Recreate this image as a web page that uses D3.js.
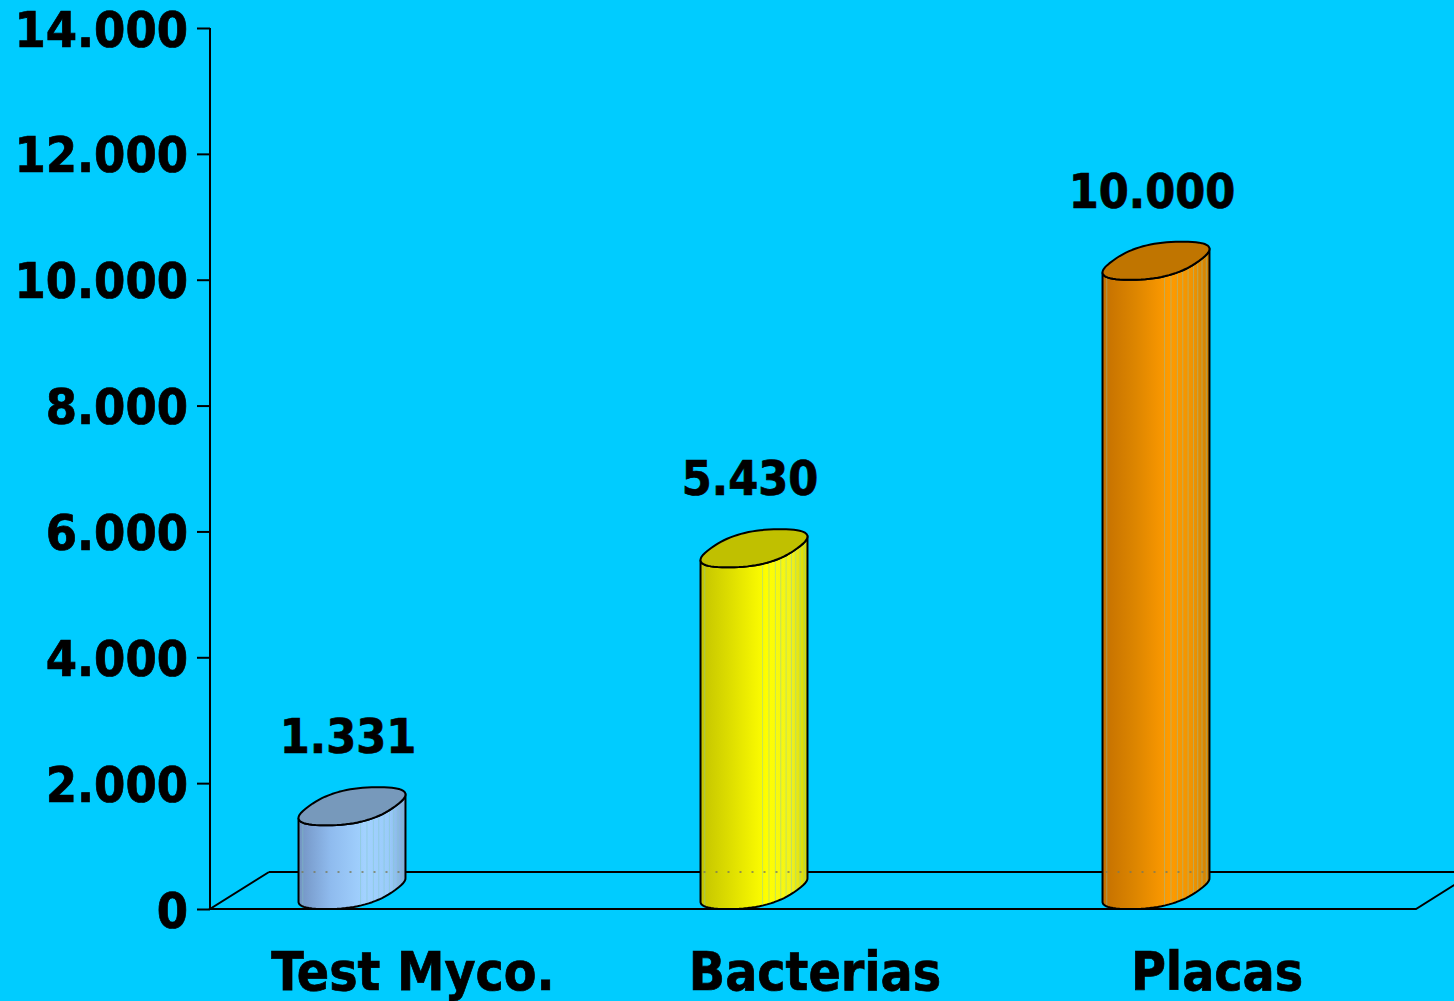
<!DOCTYPE html>
<html>
<head>
<meta charset="utf-8">
<script src="https://cdn.jsdelivr.net/npm/d3@7"></script>
<style>
  body { margin: 0; background: #00CCFF; }
  svg { display: block; }
  text { font-family: "DejaVu Sans Condensed", "DejaVu Sans", sans-serif; font-weight: bold; fill: #000; stroke: #000; stroke-width: 0.7px; }
</style>
</head>
<body>
<div id="chart"></div>
<script>
// Chart data
var categories = ["Test Myco.", "Bacterias", "Placas"];
var values = [1331, 5430, 10000];
var yTicks = [0, 2000, 4000, 6000, 8000, 10000, 12000, 14000];

// Colours per cylinder: body gradient stops and top face
var bodyStops = [
    ["#7393c2", "#8fbbee", "#a2d2ff", "#9acbfb", "#80a8d8"],
    ["#c4c400", "#e0e000", "#ffff00", "#f2f21a", "#d6d600"],
    ["#c47000", "#dc8500", "#ff9b00", "#f09300", "#d08000"]
];
var topColors = ["#7799bb", "#c0c000", "#c07500"];

// Number format with "." as thousands separator
var fmt = d3.formatLocale({ decimal: ",", thousands: ".", grouping: [3], currency: ["", ""] }).format(",d");

var width = 1454, height = 1001;
var plot = { left: 210, right: 1416, top: 28, bottom: 909 };
var depth = { dx: 59, dy: 37 };   // floor depth projection
var halfWidth = 53.5;              // half the visible width of a cylinder
var skewX = 26, halfDepthY = 19;   // projected depth axis of the cylinder section
var squircle = 2.5;                // section shape exponent (2 = ellipse)

var x = d3.scaleBand().domain(categories).range([plot.left, plot.right]);
var y = d3.scaleLinear().domain([0, 14000]).range([plot.bottom, plot.top]);

var svg = d3.select("#chart").append("svg")
    .attr("width", width)
    .attr("height", height);

var defs = svg.append("defs");

// Floor (3D base plane)
var floor = svg.append("g")
    .attr("fill", "none")
    .attr("stroke", "#000")
    .attr("stroke-width", 2);

floor.append("path")
    .attr("d", d3.line()([
        [plot.left + depth.dx, plot.bottom - depth.dy],
        [plot.left, plot.bottom],
        [plot.right, plot.bottom],
        [plot.right + depth.dx, plot.bottom - depth.dy]
    ]));
floor.append("line")
    .attr("x1", plot.left + depth.dx).attr("y1", plot.bottom - depth.dy)
    .attr("x2", plot.right + depth.dx).attr("y2", plot.bottom - depth.dy);

// Y axis
var yAxis = svg.append("g")
    .attr("transform", "translate(" + plot.left + ",0)")
    .call(d3.axisLeft(y).tickValues(yTicks).tickSize(13).tickPadding(9).tickFormat(fmt));
yAxis.attr("font-family", null).attr("font-size", null);
yAxis.select(".domain").attr("stroke-width", 2).attr("d", "M0," + plot.top + "V" + plot.bottom);
yAxis.selectAll(".tick line").attr("stroke-width", 2);
yAxis.selectAll(".tick text")
    .attr("font-size", 50)
    .attr("dy", 18);

// Cylinder section: a projected squircle, sized so its width is 2*halfWidth
var q = squircle / (squircle - 1);
var a = Math.pow(Math.pow(halfWidth, q) - Math.pow(skewX, q), 1 / q);
var N = 72;
var unit = d3.range(N).map(function(i) {
    var t = 2 * Math.PI * i / N;
    var c = Math.cos(t), s = Math.sin(t);
    var u = Math.sign(c) * Math.pow(Math.abs(c), 2 / squircle);
    var w = Math.sign(s) * Math.pow(Math.abs(s), 2 / squircle);
    return [a * u + skewX * w, -halfDepthY - halfDepthY * w];
});
var iLeft = d3.minIndex(unit, function(p) { return p[0]; });
var iRight = d3.maxIndex(unit, function(p) { return p[0]; });

// points of the front half, left to right
var frontIdx = d3.range(iLeft, iRight + N + 1).map(function(i) { return i % N; });

function place(cx, yFront, idx) {
    return idx.map(function(i) { return [cx + unit[i][0], yFront + unit[i][1]]; });
}

var data = categories.map(function(c, i) {
    return { name: c, value: values[i], i: i, cx: x(c) + x.bandwidth() / 2 - depth.dx };
});

data.forEach(function(d) {
    var grad = defs.append("linearGradient")
        .attr("id", "body" + d.i)
        .attr("x1", 0).attr("x2", 1).attr("y1", 0).attr("y2", 0);
    grad.selectAll("stop")
        .data(bodyStops[d.i])
        .enter().append("stop")
        .attr("offset", function(s, k) { return [0, 0.3, 0.62, 0.85, 1][k]; })
        .attr("stop-color", function(s) { return s; });
});

var line = d3.line();

function bodyPath(d) {
    var bottom = place(d.cx, y(0), frontIdx);
    var top = place(d.cx, y(d.value), frontIdx).reverse();
    return line(bottom.concat(top)) + "Z";
}

data.forEach(function(d) {
    defs.append("clipPath")
        .attr("id", "clip" + d.i)
        .append("path")
        .attr("d", bodyPath(d));
});

var cyl = svg.selectAll(".cylinder")
    .data(data)
    .enter().append("g")
    .attr("class", "cylinder");

// Body
cyl.append("path")
    .attr("d", bodyPath)
    .attr("fill", function(d) { return "url(#body" + d.i + ")"; });

// Thin rendering stripes on the body
cyl.append("g")
    .attr("clip-path", function(d) { return "url(#clip" + d.i + ")"; })
    .each(function(d) {
        d3.select(this).selectAll("line")
            .data([0.04, 0.58, 0.64, 0.7, 0.75, 0.8, 0.85, 0.89, 0.93, 0.97])
            .enter().append("line")
            .attr("x1", function(f) { return d.cx - halfWidth + f * 2 * halfWidth; })
            .attr("x2", function(f) { return d.cx - halfWidth + f * 2 * halfWidth; })
            .attr("y1", y(d.value) - 2 * halfDepthY)
            .attr("y2", y(0))
            .attr("stroke", "#80c8c0")
            .attr("stroke-opacity", 0.45)
            .attr("stroke-width", 1);
    });

// Back floor edge showing through the body
cyl.append("line")
    .attr("x1", function(d) { return d.cx - halfWidth + 3; })
    .attr("x2", function(d) { return d.cx + halfWidth - 3; })
    .attr("y1", plot.bottom - depth.dy)
    .attr("y2", plot.bottom - depth.dy)
    .attr("stroke", "#7a7a5a")
    .attr("stroke-width", 1.5)
    .attr("stroke-dasharray", "2,10");

// Body outline
cyl.append("path")
    .attr("d", bodyPath)
    .attr("fill", "none")
    .attr("stroke", "#000")
    .attr("stroke-width", 2)
    .attr("stroke-linejoin", "round");

// Top face
cyl.append("path")
    .attr("d", function(d) {
        return line(place(d.cx, y(d.value), d3.range(N))) + "Z";
    })
    .attr("fill", function(d) { return topColors[d.i]; })
    .attr("stroke", "#000")
    .attr("stroke-width", 2)
    .attr("stroke-linejoin", "round");

// Value labels
svg.selectAll(".value-label")
    .data(data)
    .enter().append("text")
    .attr("class", "value-label")
    .attr("x", function(d) { return d.cx - 4; })
    .attr("y", function(d) { return y(d.value) - 72; })
    .attr("text-anchor", "middle")
    .attr("font-size", 48)
    .text(function(d) { return fmt(d.value); });

// Category labels
svg.selectAll(".cat-label")
    .data(categories)
    .enter().append("text")
    .attr("class", "cat-label")
    .attr("x", function(d) { return x(d) + x.bandwidth() / 2 + 2; })
    .attr("y", plot.bottom + 81)
    .attr("text-anchor", "middle")
    .attr("font-size", 53)
    .text(function(d) { return d; });
</script>
</body>
</html>
